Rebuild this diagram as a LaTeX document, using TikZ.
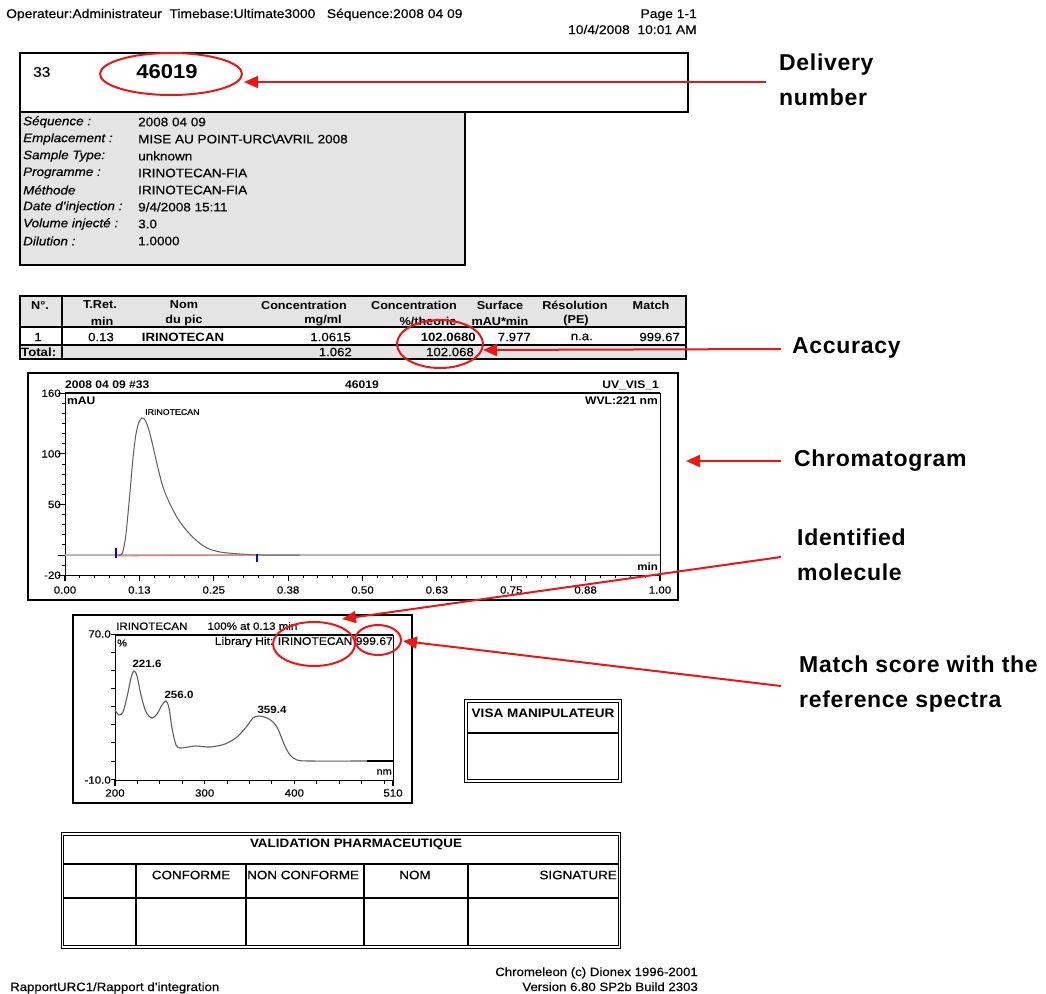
\documentclass[tikz,border=0pt]{standalone}
\usepackage{fontspec}
\setmainfont{Liberation Sans}[FakeStretch=1.1, UprightFeatures={FakeBold=0.4}, ItalicFeatures={FakeBold=0.4}]
\newfontfamily\annfont{Liberation Sans}[LetterSpace=3]
\usetikzlibrary{arrows.meta,shapes.geometric}
\definecolor{annred}{RGB}{235,22,22}
\definecolor{boxgray}{RGB}{228,228,228}
\definecolor{trace}{RGB}{95,95,95}
\newcommand\fs[1]{\fontsize{#1}{#1}\selectfont}
\begin{document}
\begin{tikzpicture}[x=1pt,y=-1pt,
  txt/.style={inner sep=0pt, font=\fs{12}},
  hd/.style={inner sep=0pt, font=\bfseries\fs{11.5}},
  ax/.style={inner sep=0pt, font=\fs{10.5}},
  ann/.style={font=\annfont\bfseries\fontsize{23}{35}\selectfont, align=left, anchor=west, inner sep=0pt},
  annarrow/.style={draw=annred, line width=2pt, -{Triangle[length=14pt,width=12pt]}},
  annring/.style={draw=annred, line width=2pt, ellipse, inner sep=0pt},
  frame/.style={draw=black, line width=1.4pt},
  dbl/.style={draw=black, line width=0.8pt}]
\useasboundingbox (0,0) rectangle (1046,993);
\fill[white] (0,0) rectangle (1046,993);

% header
\node[txt, font=\fs{12.6}, anchor=base west] (h1) at (6,18) {Operateur:Administrateur\ \ Timebase:Ultimate3000\ \ \ Séquence:2008 04 09};
\node[txt, font=\fs{12.6}, anchor=base east] (h2) at (697,18) {Page 1-1};
\node[txt, font=\fs{12.6}, anchor=base east] (h3) at (697,34) {10/4/2008\ \ 10:01 AM};

% top box
\draw[frame] (20,53) rectangle (688,112);
\node[txt, font=\fs{14}, anchor=west] (n33) at (33,72) {33};
\node[txt, font=\bfseries\fs{20}] (deliv) at (167,72) {46019};
\draw[frame, fill=boxgray] (20,112) rectangle (465,265);
\foreach \y/\l/\v in {122/Séquence :/2008 04 09, 139/Emplacement :/MISE AU POINT-URC\textbackslash AVRIL 2008,
  156/Sample Type:/unknown, 173/Programme :/IRINOTECAN-FIA, 190/Méthode/IRINOTECAN-FIA,
  207/Date d'injection :/{9/4/2008 15:11}, 224/Volume injecté :/3.0, 241/Dilution :/1.0000}{
  \node[txt, font=\itshape\fs{12.2}, anchor=west] at (23,\y) {\l};
  \node[txt, font=\fs{12.3}, anchor=west] at (138,\y) {\v};
}

% results table
\fill[boxgray] (20,296) rectangle (686,327);
\fill[boxgray] (20,345) rectangle (686,359);
\draw[frame] (20,296) rectangle (686,359);
\draw[frame] (20,327) -- (686,327);
\draw[frame] (20,345) -- (686,345);
\draw[frame] (62,296) -- (62,359);
\node[hd] at (40,305) {N°.};
\node[hd] at (100,305) {T.Ret.};
\node[hd] at (102,321) {min};
\node[hd] at (184,305) {Nom};
\node[hd] at (184,321) {du pic};
\node[hd] at (304,305) {Concentration};
\node[hd] at (323,321) {mg/ml};
\node[hd] at (414,305) {Concentration};
\node[hd] at (428,321) {\%/theorie};
\node[hd] at (500,305) {Surface};
\node[hd] at (500,321) {mAU*min};
\node[hd] at (575,305) {Résolution};
\node[hd] at (576,321) {(PE)};
\node[hd] at (651,305) {Match};
\node[txt, anchor=east] at (42,337) {1};
\node[txt] at (101,337) {0.13};
\node[txt, font=\bfseries\fs{12}] at (183,337) {IRINOTECAN};
\node[txt, anchor=east] at (351,337) {1.0615};
\node[txt, font=\bfseries\fs{12}, anchor=east] (acc) at (476,337) {102.0680};
\node[txt, anchor=east] at (531,337) {7.977};
\node[txt, anchor=east] at (593,337) {n.a.};
\node[txt, anchor=east] at (680,337) {999.67};
\node[txt, font=\bfseries\fs{12}, anchor=west] at (21,352) {Total:};
\node[txt, anchor=east] at (352,352) {1.062};
\node[txt, anchor=east] at (474,352) {102.068};

% chromatogram
\draw[line width=1.2pt] (28,373) rectangle (678,600);
\draw[line width=0.9pt] (65,393) -- (65,575) -- (660,575) -- (660,393);
\draw[line width=2pt] (65,393) -- (660,393);
\foreach \v in {-20,-10,...,160} \draw[line width=0.9pt] (65,{555-1.0111*\v}) -- ++(-3,0);
\foreach \v in {-20,0,50,100,160} \draw[line width=0.9pt] (65,{555-1.0111*\v}) -- ++(-7,0);
\foreach \i in {0,...,40} \draw[line width=0.9pt] ({65+14.875*\i},575) -- ++(0,3);
\foreach \i in {0,5,...,40} \draw[line width=1.2pt] ({65+14.875*\i},575) -- ++(0,6);
\foreach \v/\l in {160/160,100/100,50/50,-20/-20} \node[ax, anchor=east] at (61,{555-1.0111*\v}) {\l};
\foreach \i/\l in {0/0.00,1/0.13,2/0.25,3/0.38,4/0.50,5/0.63,6/0.75,7/0.88,8/1.00}
  \node[ax] at ({65+74.375*\i},590) {\l};
\draw[gray!55, line width=1.6pt] (65,555) -- (660,555);
\draw[trace, line width=1pt] plot[smooth, tension=0.55] coordinates {(118,555) (122,554) (125,541) (127,524) (130,492) (133,458) (136,434) (139,422) (142,418) (145,420) (148,427) (152,442) (157,464) (163,487) (170,504) (178,519) (187,531) (197,541) (207,548) (220,552) (240,554) (262,555) (300,555)};
\draw[red!60, line width=0.8pt] (116,556) -- (257,555);
\draw[blue, line width=1.3pt] (116,548) -- (116,558);
\draw[blue, line width=1.3pt] (257,554) -- (257,562);
\node[ax, font=\bfseries\fs{11}, anchor=west] (ctitle) at (65,385) {2008 04 09 \#33};
\node[ax, font=\bfseries\fs{11}] at (362,385) {46019};
\node[ax, font=\bfseries\fs{11}, anchor=east] at (659,385) {UV\_VIS\_1};
\node[ax, font=\bfseries\fs{11}, anchor=west] at (67,401) {mAU};
\node[ax, font=\bfseries\fs{11}, anchor=east] at (658,401) {WVL:221 nm};
\node[ax, font=\fs{8}, anchor=west] at (145,412) {IRINOTECAN};
\node[ax, font=\bfseries\fs{10.5}, anchor=east] at (658,567) {min};
\coordinate (chromR) at (686,461);

% spectrum
\draw[line width=1.2pt] (73,615) rectangle (412,803);
\draw[line width=0.9pt] (393,635) -- (393,780) -- (115,780) -- (115,635);
\draw[line width=2pt] (115,635) -- (393,635);
\foreach \v in {-10,0,...,70} \draw[line width=0.9pt] (115,{761-1.8125*\v}) -- ++(-4,0);
\foreach \n in {200,225,...,500} \draw[line width=0.9pt] ({115+0.8968*(\n-200)},780) -- ++(0,4);
\draw[line width=1.2pt] (393,780) -- ++(0,6);
\draw[line width=1.2pt] (115,780) -- ++(0,6);
\node[ax, anchor=east] at (111,634) {70.0};
\node[ax, anchor=east] at (111,780) {-10.0};
\foreach \n/\l in {200/200,300/300,400/400,510/510} \node[ax] at ({115+0.8968*(\n-200)},793) {\l};
\draw[trace, line width=1.1pt] plot[smooth, tension=0.5] coordinates {(115,710) (119,715) (123,712) (127,697) (131,678) (134,671) (137,676) (141,695) (146,712) (152,718) (157,714) (162,705) (166,701) (169,708) (172,728) (176,745) (181,748) (195,746) (210,747) (225,744) (237,737) (247,726) (253,718) (259,716) (267,718) (273,722) (278,729) (284,744) (290,755) (297,760) (310,761) (367,761)};
\draw[line width=1.8pt] (367,761) -- (393,761);
\node[ax, font=\fs{10.5}, anchor=west] at (116,626) {IRINOTECAN\hspace{20pt}100\% at 0.13 min};
\node[ax, font=\fs{11}, anchor=east] (libhit) at (393,642) {Library Hit: IRINOTECAN 999.67};
\node[ax, font=\fs{10}, anchor=west] at (117,643) {\%};
\node[ax, font=\fs{10}, anchor=east] at (392,772) {nm};
\node[ax, font=\bfseries\fs{10.5}] at (147,664) {221.6};
\node[ax, font=\bfseries\fs{10.5}] at (179,695) {256.0};
\node[ax, font=\bfseries\fs{10.5}] at (272,710) {359.4};

% visa box
\draw[dbl] (464,699) rectangle (621,782);
\draw[dbl] (467,702) rectangle (618,779);
\draw[line width=1.5pt] (467,733) -- (618,733);
\node[txt, font=\bfseries\fs{12.3}] (visa) at (543,713) {VISA MANIPULATEUR};

% validation table
\draw[dbl] (61,832) rectangle (620,948);
\draw[dbl] (63,835) rectangle (618,945);
\draw[line width=1.5pt] (63,864) -- (618,864);
\draw[line width=1.5pt] (63,898) -- (618,898);
\foreach \x in {136,246,364,468} \draw[line width=1.5pt] (\x,864) -- (\x,945);
\node[txt, font=\bfseries\fs{12.2}] (valid) at (356,844) {VALIDATION PHARMACEUTIQUE};
\node[txt, font=\fs{12.2}] at (191,875) {CONFORME};
\node[txt, font=\fs{12.2}, anchor=west] at (247,875) {NON CONFORME};
\node[txt, font=\fs{12.2}] at (415,875) {NOM};
\node[txt, font=\fs{12.2}, anchor=east] at (617,875) {SIGNATURE};

% footer
\node[txt, anchor=base west] (f1) at (10,991) {RapportURC1/Rapport d'integration};
\node[txt, anchor=base east] (f2) at (698,976) {Chromeleon (c) Dionex 1996-2001};
\node[txt, anchor=base east] (f3) at (698,991) {Version 6.80 SP2b Build 2303};

% annotations
\node[annring, minimum width=142pt, minimum height=42pt] (ring1) at (171,74) {};
\node[annring, minimum width=86pt, minimum height=48pt] (ring2) at (440,344) {};
\node[annring, minimum width=82pt, minimum height=44pt] (ring3) at (314,644) {};
\node[annring, minimum width=46pt, minimum height=30pt] (ring4) at (378,640) {};

\node[ann] (lDel) at (779,80) {Delivery\\number};
\node[ann] (lAcc) at (792,348) {Accuracy};
\node[ann] (lChr) at (794,461) {Chromatogram};
\node[ann] (lId) at (797,555) {Identified\\molecule};
\node[ann] (lMat) at (799,684) {Match score with the\\reference spectra};

\coordinate (sDel) at (766,82);
\coordinate (sAcc) at (781,349);
\coordinate (sChr) at (781,461);
\coordinate (sId) at (781,557);
\coordinate (sMat) at (781,686);
\coordinate (tDel) at (244,82);
\coordinate (tAcc) at (483,350);
\coordinate (tId) at (342,619);
\coordinate (tMat) at (403,641);

\draw[annarrow] (sDel) -- (tDel);
\draw[annarrow] (sAcc) -- (tAcc);
\draw[annarrow] (sChr) -- (chromR);
\draw[annarrow] (sId) -- (tId);
\draw[annarrow] (sMat) -- (tMat);
\end{tikzpicture}
\end{document}
